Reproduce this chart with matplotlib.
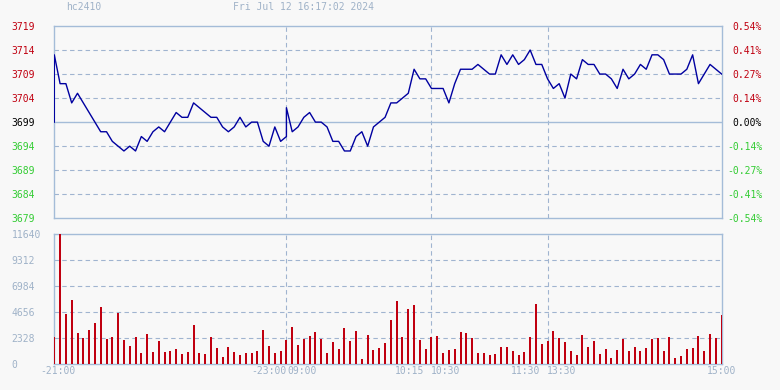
import numpy as np
import matplotlib.pyplot as plt
from matplotlib.transforms import offset_copy

plt.rcParams['font.family'] = ['DejaVu Sans Mono']
plt.rcParams['font.size'] = 7

symbol = 'hc2410'
stamp = 'Fri Jul 12 16:17:02 2024'
prev_close = 3699

# 3-minute prices, night session 21:00-23:00
night_px = [3713, 3707, 3707, 3703, 3705, 3703, 3701, 3699, 3697, 3697,
            3695, 3694, 3693, 3694, 3693, 3696, 3695, 3697, 3698, 3697,
            3699, 3701, 3700, 3700, 3703, 3702, 3701, 3700, 3700, 3698,
            3697, 3698, 3700, 3698, 3699, 3699, 3695, 3694, 3698, 3695,
            3696]
# day session 09:00-15:00
day_px = [3702, 3697, 3698, 3700, 3701, 3699, 3699, 3698, 3695, 3695,
          3693, 3693, 3696, 3697, 3694, 3698, 3699, 3700, 3703, 3703,
          3704, 3705, 3710, 3708, 3708, 3706, 3706, 3706, 3703, 3707,
          3710, 3710, 3710, 3711, 3710, 3709, 3709, 3713, 3711, 3713,
          3711, 3712, 3714, 3711, 3711, 3708, 3706, 3707, 3704, 3709,
          3708, 3712, 3711, 3711, 3709, 3709, 3708, 3706, 3710, 3708,
          3709, 3711, 3710, 3713, 3713, 3712, 3709, 3709, 3709, 3710,
          3713, 3707, 3709, 3711, 3710, 3709]

volume = [2478, 11640, 4507, 5761, 2836, 2388, 3075, 3731, 5164, 2269,
          2418, 4567, 2179, 1672, 2418, 1045, 2716, 1134, 2119, 1134,
          1224, 1373, 925, 1134, 3522, 1045, 925, 2418, 1493, 687,
          1552, 1134, 836, 1045, 1045, 1194,
          3075, 1642, 1045, 1194, 2179, 3343, 1731, 2269, 2537, 2925,
          2269, 1045, 2030, 1373, 3284, 2090, 2985, 478, 2627, 1284,
          1493, 1940, 3970, 5672, 2478, 4955, 5313, 2179, 1373, 2448,
          2537, 1045, 1284, 1373, 2895, 2776, 2328, 1045, 1045, 836,
          955, 1552, 1552, 1194, 836,
          1134, 2448, 5403, 1821, 2119, 2985, 2328, 2030, 1194, 836,
          2627, 1552, 2090, 925, 1373, 537, 1284, 2269, 1194, 1552,
          1194, 1433, 2269, 2328, 1194, 2448, 537, 746, 1373, 1433,
          2537, 1194, 2716, 2328, 4418]

price_ticks = [3679, 3684, 3689, 3694, 3699, 3704, 3709, 3714, 3719]
vol_ticks = [0, 2328, 4656, 6984, 9312, 11640]
breaks = [120, 195, 255]   # minutes into the trading day

# minutes axis: 345 trading minutes, sessions glued together
line_x = np.r_[0, np.arange(0, 121, 3), np.arange(120, 346, 3)]
line_y = [prev_close] + night_px + day_px
bar_x = np.arange(0, 346, 3)

bg = '#f8f8f8'
frame = '#a4bcd8'
grid = '#a0b4d0'
red = '#c00010'
green = '#33cc33'
pale = '#9fb2c8'

fig = plt.figure(figsize=(7.8, 3.9), dpi=100, facecolor=bg)
ax = fig.add_axes([0.0696, 0.4403, 0.8556, 0.4931], facecolor=bg)
axv = fig.add_axes([0.0696, 0.0659, 0.8556, 0.3333], facecolor=bg)

dash = (0, (4, 3))
for a in (ax, axv):
    a.set_xlim(0, 345)
    for s in a.spines.values():
        s.set_color(frame)
        s.set_linewidth(1)
    for b in breaks:
        a.axvline(b, color=grid, lw=0.8, ls=dash, zorder=1)
    a.set_xticks([])

# price panel
ax.set_ylim(price_ticks[0], price_ticks[-1])
for t in price_ticks[1:-1]:
    if t == prev_close:
        ax.axhline(t, color=frame, lw=1, zorder=1)
    else:
        ax.axhline(t, color=grid, lw=0.8, ls=dash, zorder=1)
ax.plot(line_x, line_y, color='#0000a0', lw=1.0, zorder=3)
ax.set_yticks(price_ticks)
ax.set_yticklabels([str(t) for t in price_ticks])
ax.tick_params(axis='y', length=0, pad=13.9)
for t, lab in zip(price_ticks, ax.get_yticklabels()):
    lab.set_color(red if t > prev_close else (green if t < prev_close else 'black'))

axr = ax.twinx()
axr.set_ylim(ax.get_ylim())
axr.set_yticks(price_ticks)
pct = [(t - prev_close) / prev_close * 100 for t in price_ticks]
axr.set_yticklabels(['%.2f%%' % p for p in pct])
axr.tick_params(axis='y', length=0, pad=29.2)
for t, lab in zip(price_ticks, axr.get_yticklabels()):
    lab.set_horizontalalignment('right')
    lab.set_color(red if t > prev_close else (green if t < prev_close else 'black'))
for s in axr.spines.values():
    s.set_visible(False)

# volume panel
axv.set_ylim(0, vol_ticks[-1])
for t in vol_ticks[1:-1]:
    axv.axhline(t, color=grid, lw=0.8, ls=dash, zorder=1)
axv.vlines(bar_x, 0, volume, color=red, lw=1.2, zorder=3, antialiased=False)
axv.set_yticks(vol_ticks)
axv.set_yticklabels([str(t) for t in vol_ticks], color=pale)
axv.tick_params(axis='y', length=0, pad=30.7)
for lab in axv.get_yticklabels():
    lab.set_horizontalalignment('left')

# time labels under the volume bars
tf = axv.get_xaxis_transform()
time_labels = [('-21:00', 0, 'center', 4), ('-23:00', 120, 'right', 0),
               ('09:00', 120, 'left', 1), ('10:15', 195, 'right', -7),
               ('10:30', 195, 'left', -1), ('11:30', 255, 'right', -7),
               ('13:30', 255, 'left', -1), ('15:00', 345, 'center', 0)]
for txt, m, ha, dx in time_labels:
    tr = offset_copy(tf, fig=fig, x=dx, y=-6.7, units='dots')
    axv.text(m, 0, txt, transform=tr, ha=ha, va='center', color=pale)

fig.text(65.7 / 780, 1 - 7.5 / 390, symbol, color=pale, va='center')
fig.text(233.3 / 780, 1 - 7.5 / 390, stamp, color=pale, va='center')

fig.savefig('out.png', dpi=100, facecolor=bg)
